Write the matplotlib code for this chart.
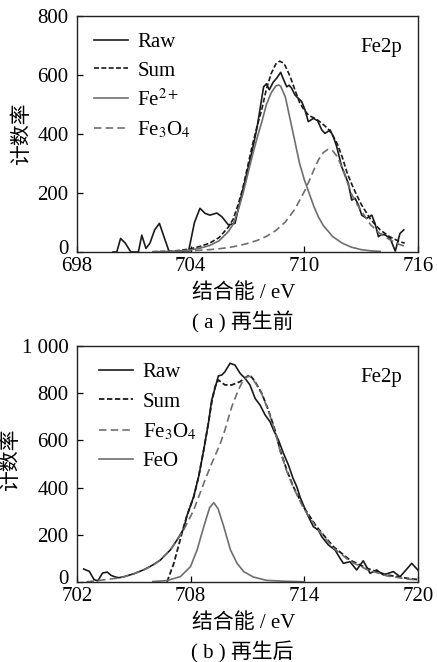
import matplotlib.pyplot as plt
import matplotlib.transforms as mtransforms

plt.rcParams['font.family'] = ['Liberation Serif', 'Noto Sans CJK SC']
plt.rcParams['mathtext.fontset'] = 'stix'
plt.rcParams['font.size'] = 15

# ---------- (a) 再生前 ----------
raw_a_x = [699.9, 700.1, 700.3, 700.55, 700.84, 701.24, 701.42, 701.64, 701.85, 702.1,
           702.35, 702.6, 702.87, 703.88, 704.2, 704.49, 704.76, 705.02, 705.38, 705.64,
           705.99, 706.34, 706.6, 706.9, 707.2, 707.5, 707.7, 707.85, 708.0, 708.15,
           708.35, 708.55, 708.75, 708.9, 709.07, 709.2, 709.33, 709.51, 709.68, 709.86,
           710.04, 710.21, 710.48, 710.7, 710.92, 711.09, 711.36, 711.53, 711.71, 711.97,
           712.15, 712.32, 712.5, 712.68, 712.85, 713.03, 713.29, 713.56, 713.73, 713.91,
           714.08, 714.26, 714.53, 714.8, 715.05, 715.25]
raw_a_y = [0, 0, 46, 30, 0, 0, 57, 12, 30, 75,
           97, 50, 0, 0, 100, 148, 131, 125, 132, 120,
           92, 97, 171, 250, 330, 420, 500, 560, 570, 550,
           575, 590, 609, 585, 560, 565, 555, 532, 521, 510,
           481, 442, 453, 445, 414, 402, 414, 391, 357, 289,
           261, 233, 176, 182, 160, 125, 114, 125, 97, 52,
           60, 58, 46, 3, 63, 75]

sum_a_x = [702.0, 703.0, 703.5, 704.0, 704.5, 705.0, 705.5, 706.0, 706.25, 706.5,
           706.75, 707.0, 707.25, 707.5, 707.75, 708.0, 708.25, 708.5, 708.7, 708.9,
           709.0, 709.25, 709.5, 709.75, 710.0, 710.25, 710.5, 710.75, 711.0, 711.25,
           711.5, 711.75, 712.0, 712.25, 712.5, 712.75, 713.0, 713.5, 714.0, 714.5,
           715.0, 715.3]
sum_a_y = [1, 3, 6, 11, 19, 30, 49, 85, 112, 160,
           215, 288, 360, 425, 482, 553, 605, 638, 647, 640,
           630, 595, 550, 507, 480, 462, 455, 445, 432, 418,
           395, 365, 322, 270, 230, 195, 162, 110, 75, 52,
           36, 30]

fe2_a_x = [702.0, 703.0, 703.5, 704.0, 704.5, 705.0, 705.5, 706.0, 706.25, 706.5,
           706.75, 707.0, 707.25, 707.5, 707.75, 708.0, 708.25, 708.5, 708.65, 708.75,
           709.0, 709.25, 709.5, 709.75, 710.0, 710.25, 710.5, 710.75, 711.0, 711.5,
           712.0, 712.5, 713.0, 713.5, 714.0]
fe2_a_y = [1, 2, 4, 7, 13, 22, 38, 70, 95, 140,
           195, 260, 325, 385, 440, 500, 540, 563, 566, 562,
           525, 450, 375, 300, 245, 200, 155, 118, 90, 52,
           30, 16, 8, 4, 2]

fe3o4_a_x = [703.0, 703.5, 704.0, 704.5, 705.0, 705.5, 706.0, 706.5, 707.0, 707.5,
             708.0, 708.5, 709.0, 709.5, 710.0, 710.25, 710.5, 710.75, 711.0, 711.25,
             711.5, 711.75, 712.0, 712.25, 712.5, 712.75, 713.0, 713.5, 714.0, 714.5,
             715.0, 715.3]
fe3o4_a_y = [1, 2, 4, 6, 8, 11, 15, 21, 29, 39,
             53, 73, 102, 145, 205, 240, 278, 313, 337, 348,
             343, 322, 285, 240, 195, 165, 140, 92, 62, 42,
             26, 20]

# ---------- (b) 再生后 ----------
raw_b_x = [702.35, 702.5, 702.65, 702.9, 703.1, 703.35, 703.6, 703.8, 704.0, 704.2,
           704.5, 705.0, 705.5, 706.0, 706.4, 706.93, 707.28, 707.63, 707.8, 708.16,
           708.43, 708.69, 708.95, 709.11, 709.38, 709.46, 709.64, 709.81, 710.08, 710.34,
           710.61, 710.87, 711.13, 711.4, 711.66, 711.93, 712.19, 712.37, 712.63, 712.9,
           713.16, 713.4, 713.6, 713.77, 714.13, 714.48, 714.74, 714.92, 715.27, 715.62,
           715.89, 716.06, 716.41, 716.76, 717.11, 717.47, 717.82, 718.17, 718.7, 719.05,
           719.67, 720.0]
raw_b_y = [55, 50, 45, 10, 5, 38, 42, 28, 22, 18,
           23, 35, 51, 72, 93, 136, 178, 225, 280, 362,
           450, 560, 680, 771, 849, 873, 877, 891, 927, 919,
           884, 863, 835, 778, 750, 708, 679, 645, 602, 545,
           496, 440, 404, 361, 291, 234, 220, 192, 157, 136,
           100, 79, 86, 51, 90, 37, 51, 30, 44, 22,
           79, 50]

sum_b_x = [706.75, 707.11, 707.63, 707.8, 708.16, 708.43, 708.69, 708.95, 709.13, 709.3,
           709.46, 709.81, 710.17, 710.61, 710.96, 711.13, 711.4, 711.75, 712.1, 712.45,
           712.72, 713.07, 713.42, 713.95, 714.65, 715.53, 716.41, 717.3, 718.35, 719.4,
           720.0]
sum_b_y = [0, 79, 234, 280, 360, 450, 560, 680, 770, 830,
           856, 835, 835, 849, 870, 877, 849, 800, 729, 644,
           559, 475, 404, 319, 234, 150, 93, 58, 30, 16,
           10]

fe3o4_b_x = [702.5, 703.0, 703.5, 704.11, 704.5, 705.0, 705.52, 706.0, 706.4, 706.93,
             707.28, 707.63, 708.16, 708.69, 709.04, 709.57, 709.81, 710.17, 710.52, 710.78,
             710.96, 711.13, 711.4, 711.75, 712.1, 712.45, 712.72, 713.07, 713.42, 713.95,
             714.65, 715.53, 716.41, 717.3, 718.35, 719.4, 720.0]
fe3o4_b_y = [1, 5, 10, 16, 22, 35, 51, 70, 93, 136,
             178, 220, 305, 418, 489, 588, 644, 743, 814, 856,
             868, 872, 846, 797, 726, 640, 555, 470, 400, 314,
             229, 145, 88, 53, 26, 13, 8]

feo_b_x = [706.0, 706.75, 707.46, 707.99, 708.34, 708.69, 709.0, 709.22, 709.45, 709.75,
           710.1, 710.45, 710.8, 711.31, 712.0, 713.0, 714.0]
feo_b_y = [2, 6, 23, 65, 136, 234, 315, 336, 310, 234,
           136, 79, 44, 21, 7, 3, 1]

fig = plt.figure(figsize=(4.37, 6.62), dpi=100)
ax1 = fig.add_axes([77 / 437, 1 - 252 / 662, 341 / 437, 236 / 662])
ax2 = fig.add_axes([77 / 437, 1 - 582 / 662, 341 / 437, 236 / 662])

dark = '#1a1a1a'
grey = '#6e6e6e'

ax1.plot(raw_a_x, raw_a_y, color=dark, lw=1.2, label='Raw')
ax1.plot(sum_a_x, sum_a_y, color=dark, lw=1.2, dashes=(3, 1.4), label='Sum')
ax1.plot(fe2_a_x, fe2_a_y, color=grey, lw=1.2, label='Fe$^{2+}$')
ax1.plot(fe3o4_a_x, fe3o4_a_y, color=grey, lw=1.2, dashes=(4.5, 2.5), label='Fe$_3$O$_4$')

ax2.plot(raw_b_x, raw_b_y, color=dark, lw=1.2, label='Raw')
ax2.plot(sum_b_x, sum_b_y, color=dark, lw=1.3, dashes=(3, 1.4), label='Sum')
ax2.plot(fe3o4_b_x, fe3o4_b_y, color=grey, lw=1.2, dashes=(4.5, 2.5), label='Fe$_3$O$_4$')
ax2.plot(feo_b_x, feo_b_y, color=grey, lw=1.2, label='FeO')

ax1.set_xlim(698, 716)
ax1.set_ylim(0, 800)
ax1.set_xticks([698, 704, 710, 716])
ax1.set_yticks([0, 200, 400, 600, 800])

ax2.set_xlim(702, 720)
ax2.set_ylim(0, 1000)
ax2.set_xticks([702, 708, 714, 720])
ax2.set_yticks([0, 200, 400, 600, 800, 1000])
ax2.set_yticklabels(['0', '200', '400', '600', '800', '1 000'])

for ax, cap, leg_dx, lsp in [(ax1, '( a ) 再生前', 0.0, 0.42), (ax2, '( b ) 再生后', 0.015, 0.47)]:
    ax.tick_params(direction='in', length=4, width=0.9, labelsize=15)
    ax.tick_params(axis='x', pad=3.5)
    ax.tick_params(axis='y', pad=6)
    for s in ax.spines.values():
        s.set_linewidth(1.0)
        s.set_color('#222222')
    # nudge the "0" label up a little, as in the original
    zero = ax.get_yticklabels()[0]
    zero.set_transform(zero.get_transform() +
                       mtransforms.ScaledTranslation(0, 5 / 100, fig.dpi_scale_trans))
    ax.text(0.49, -0.174, '结合能 / eV', transform=ax.transAxes, ha='center', va='center', fontsize=15)
    ax.text(0.485, -0.297, cap, transform=ax.transAxes, ha='center', va='center', fontsize=15)
    ax.text(0.953, 0.865, 'Fe2p', transform=ax.transAxes, ha='right', va='center', fontsize=15)
    ax.legend(loc='upper left', bbox_to_anchor=(leg_dx, 1.0), frameon=False, fontsize=15,
              handlelength=1.65, handletextpad=0.45, labelspacing=lsp,
              borderaxespad=0.45, borderpad=0.35)

ax1.set_ylabel('计数率', fontsize=15)
ax1.yaxis.set_label_coords(-0.132, 0.5)
ax2.set_ylabel('计数率', fontsize=15)
ax2.yaxis.set_label_coords(-0.163, 0.52)

fig.savefig('out.png', dpi=100)
